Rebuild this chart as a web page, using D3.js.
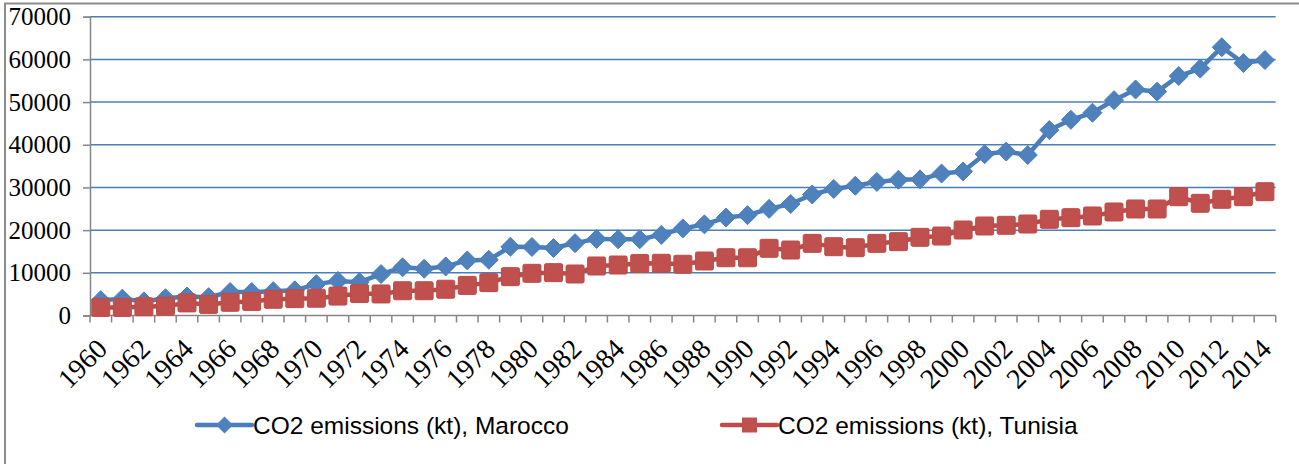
<!DOCTYPE html>
<html>
<head>
<meta charset="utf-8">
<script src="https://cdn.jsdelivr.net/npm/d3@7"></script>
<style>
  body { margin: 0; background: #fff; }
  svg { display: block; }
</style>
</head>
<body>
<svg id="chart" width="1299" height="464"></svg>
<script>
// data
const years = d3.range(1960, 2015)
const yTicks = [0, 10000, 20000, 30000, 40000, 50000, 60000, 70000]
const morocco = [3600, 3950, 3300, 4050, 4450, 4300, 5500, 5500, 5700, 5900,
  7350, 8100, 7800, 9700, 11290, 10950, 11500, 12900, 13050, 16100,
  16050, 15800, 16950, 17950, 17850, 17850, 18880, 20400, 21350, 22950,
  23500, 24980, 26120, 28350, 29650, 30400, 31300, 31800, 31900, 33250,
  33750, 37800, 38400, 37600, 43450, 45850, 47500, 50450, 52950, 52450,
  56100, 57850, 62850, 59150, 59850]
const tunisia = [1900, 1900, 2050, 2200, 2950, 2600, 3100, 3300, 3800, 3950,
  4050, 4550, 5150, 5050, 5800, 5800, 6150, 7050, 7700, 9100,
  9880, 10040, 9720, 11600, 11830, 12200, 12230, 12000, 12770, 13540,
  13520, 15740, 15340, 16900, 16120, 15890, 16900, 17300, 18320, 18620,
  20030, 20970, 21130, 21430, 22530, 22920, 23310, 24250, 24950, 24950,
  27830, 26280, 27220, 27830, 29000]
const seriesNames = ["CO2 emissions (kt), Marocco", "CO2 emissions (kt), Tunisia"]

const blue = "#4a7ebb", blueFill = "#4f81bd"
const red = "#be4b48", redFill = "#c0504d"
const axisGray = "#868686"

const svg = d3.select("#chart")

// outer frame (only top and left edges show in the picture)
svg.append("path")
  .attr("d", "M5,464 L5,3.5 L1299,3.5")
  .attr("fill", "none")
  .attr("stroke", "#8c8c8c")
  .attr("stroke-width", 2)

const plotLeft = 90, plotRight = 1275.7, plotTop = 16.7, plotBottom = 315.5

const x = d3.scaleBand().domain(years).range([plotLeft, plotRight])
const y = d3.scaleLinear().domain([0, 70000]).range([plotBottom, plotTop])

// gridlines
svg.append("g")
  .selectAll("line")
  .data(yTicks.filter(d => d > 0))
  .join("line")
  .attr("x1", plotLeft).attr("x2", plotRight)
  .attr("y1", d => y(d)).attr("y2", d => y(d))
  .attr("stroke", blue)
  .attr("stroke-width", 1.5)

// y axis
const yAxis = svg.append("g")
  .attr("transform", `translate(${plotLeft},0)`)
  .call(d3.axisLeft(y).tickValues(yTicks).tickSize(7).tickPadding(12).tickFormat(d => d))
yAxis.select(".domain").attr("stroke", axisGray).attr("stroke-width", 1.5)
yAxis.selectAll(".tick line").attr("stroke", axisGray).attr("stroke-width", 1.5)
yAxis.selectAll("text")
  .attr("font-family", "'Liberation Serif', 'Times New Roman', serif")
  .attr("font-size", 25)
  .attr("fill", "#000")

// x axis line and ticks at category boundaries
svg.append("line")
  .attr("x1", plotLeft).attr("x2", plotRight)
  .attr("y1", plotBottom).attr("y2", plotBottom)
  .attr("stroke", axisGray).attr("stroke-width", 1.5)

const boundaries = years.map(d => x(d)).concat([plotRight])
svg.append("g")
  .selectAll("line")
  .data(boundaries)
  .join("line")
  .attr("x1", d => d).attr("x2", d => d)
  .attr("y1", plotBottom).attr("y2", plotBottom + 7)
  .attr("stroke", axisGray).attr("stroke-width", 1.5)

// x labels, every second year, rotated
const cx = d => x(d) + x.bandwidth() / 2
svg.append("g")
  .selectAll("text")
  .data(years.filter((d, i) => i % 2 === 0))
  .join("text")
  .attr("transform", d => `translate(${cx(d) + 8},${plotBottom + 35}) rotate(-45)`)
  .attr("text-anchor", "end")
  .attr("font-family", "'Liberation Serif', 'Times New Roman', serif")
  .attr("font-size", 28)
  .attr("fill", "#000")
  .text(d => d)

// lines + markers
const line = d3.line()
  .x((d, i) => cx(years[i]))
  .y(d => y(d))

svg.append("path")
  .datum(morocco)
  .attr("d", line)
  .attr("fill", "none")
  .attr("stroke", blue)
  .attr("stroke-width", 4.5)
  .attr("stroke-linejoin", "round")

svg.append("path")
  .datum(tunisia)
  .attr("d", line)
  .attr("fill", "none")
  .attr("stroke", red)
  .attr("stroke-width", 4.5)
  .attr("stroke-linejoin", "round")

const diamond = s => `M0,${-s} L${s},0 L0,${s} L${-s},0 Z`

svg.append("g")
  .selectAll("path")
  .data(morocco)
  .join("path")
  .attr("transform", (d, i) => `translate(${cx(years[i])},${y(d)})`)
  .attr("d", diamond(9.5))
  .attr("fill", blueFill)
  .attr("stroke", blue)
  .attr("stroke-width", 1)

svg.append("g")
  .selectAll("rect")
  .data(tunisia)
  .join("rect")
  .attr("x", (d, i) => cx(years[i]) - 9)
  .attr("y", d => y(d) - 9)
  .attr("width", 18).attr("height", 18)
  .attr("rx", 1.5)
  .attr("fill", redFill)
  .attr("stroke", red)
  .attr("stroke-width", 1)

// legend
const legend = [
  {name: seriesNames[0], x0: 197, color: blue, fill: blueFill, shape: "diamond"},
  {name: seriesNames[1], x0: 722, color: red, fill: redFill, shape: "square"}
]
const ly = 425
legend.forEach(l => {
  const g = svg.append("g")
  g.append("line")
    .attr("x1", l.x0).attr("x2", l.x0 + 55)
    .attr("y1", ly).attr("y2", ly)
    .attr("stroke", l.color).attr("stroke-width", 4.5)
    .attr("stroke-linecap", "round")
  if (l.shape === "diamond") {
    g.append("path")
      .attr("transform", `translate(${l.x0 + 27.5},${ly})`)
      .attr("d", diamond(8.5))
      .attr("fill", l.fill)
  } else {
    g.append("rect")
      .attr("x", l.x0 + 27.5 - 7.5).attr("y", ly - 7.5)
      .attr("width", 15).attr("height", 15)
      .attr("fill", l.fill)
  }
  g.append("text")
    .attr("x", l.x0 + 56)
    .attr("y", ly)
    .attr("dy", "0.36em")
    .attr("font-family", "'Liberation Sans', Arial, sans-serif")
    .attr("font-size", 24.5)
    .attr("fill", "#000")
    .text(l.name)
})
</script>
</body>
</html>
